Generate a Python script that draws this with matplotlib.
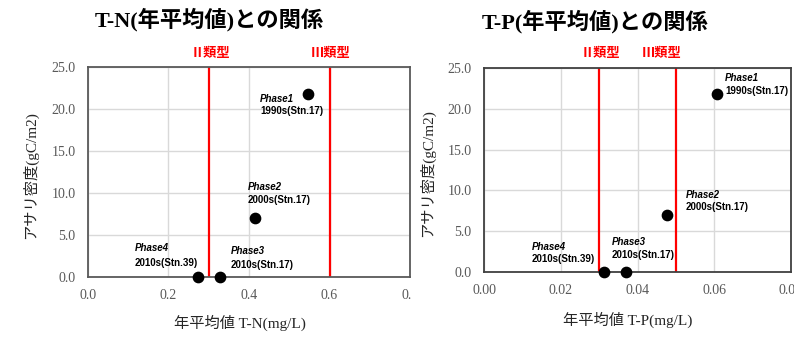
import matplotlib
matplotlib.use("Agg")
import matplotlib.pyplot as plt
from matplotlib.transforms import Bbox

# ---- data ----
phases = ["Phase1", "Phase2", "Phase3", "Phase4"]
periods = ["1990s(Stn.17)", "2000s(Stn.17)", "2010s(Stn.17)", "2010s(Stn.39)"]
tn_values = [0.547, 0.415, 0.328, 0.273]
tp_values = [0.0607, 0.0477, 0.037, 0.0313]
density = [21.8, 7.0, 0.0, 0.0]
tn_thresholds = [0.3, 0.6]
tp_thresholds = [0.03, 0.05]
threshold_labels = ["Ⅱ類型", "Ⅲ類型"]
tn_xticks = [0.0, 0.2, 0.4, 0.6, 0.8]
tp_xticks = [0.0, 0.02, 0.04, 0.06, 0.08]
tn_xticklabels = ["0.0", "0.2", "0.4", "0.6", "0.8"]
tp_xticklabels = ["0.00", "0.02", "0.04", "0.06", "0.08"]
yticks = [0.0, 5.0, 10.0, 15.0, 20.0, 25.0]
yticklabels = ["0.0", "5.0", "10.0", "15.0", "20.0", "25.0"]

SERIF_JP = ["Liberation Serif", "Noto Sans CJK JP"]
SANS = ["Liberation Sans", "DejaVu Sans"]

fig = plt.figure(figsize=(7.94, 3.38), dpi=100)

def panel(rect, xv, xlim, xticks, xticklabels, thresholds, thr_label_x, title, title_xy,
          xlabel, xlabel_pos, ylabel_pos, offsets, frame_color, thr_label_y, clip_right=None):
    ax = fig.add_axes(rect)
    ax.set_xlim(*xlim)
    ax.set_ylim(0, 25)
    ax.set_xticks(xticks)
    ax.set_xticklabels(xticklabels)
    ax.set_yticks(yticks)
    ax.set_yticklabels(yticklabels)
    ax.tick_params(length=0, labelsize=10, colors="#595959", pad=9)
    for lab in ax.get_xticklabels() + ax.get_yticklabels():
        lab.set_family(SERIF_JP)
    ax.grid(True, color="#d9d9d9", lw=1.0)
    ax.set_axisbelow(True)
    for s in ax.spines.values():
        s.set_color(frame_color)
        s.set_linewidth(1.3)
    for t in thresholds:
        ax.axvline(t, color="#ff0000", lw=1.6, zorder=2)
    for lx, txt in zip(thr_label_x, threshold_labels):
        ax.text(lx, thr_label_y, txt, transform=ax.get_xaxis_transform(), ha="center",
                va="center", color="#ff0000", fontsize=9.5, fontweight="bold",
                family=["Noto Sans CJK JP"])
    ax.scatter(xv, density, s=55, color="black", zorder=4, clip_on=False)
    for x, y, ph, pe, (dx, dy1, dy2) in zip(xv, density, phases, periods, offsets):
        ax.annotate(ph, (x, y), xytext=(dx, -dy1), textcoords="offset pixels",
                    ha="left", va="center", fontsize=7, fontweight="bold",
                    style="italic", family=SANS, annotation_clip=False)
        ax.annotate(pe, (x, y), xytext=(dx, -dy2), textcoords="offset pixels",
                    ha="left", va="center", fontsize=7, fontweight="bold",
                    family=SANS, annotation_clip=False)
    ax.text(xlabel_pos[0], xlabel_pos[1], xlabel, transform=ax.transAxes, ha="center",
            va="center", fontsize=11, color="#262626", family=SERIF_JP)
    ax.text(ylabel_pos[0], ylabel_pos[1], "アサリ密度(gC/m2)", transform=ax.transAxes,
            ha="center", va="center", rotation=90, fontsize=11, color="#262626",
            family=SERIF_JP)
    fig.text(title_xy[0], title_xy[1], title, ha="center", va="center", fontsize=16,
             fontweight="bold", family=["Liberation Serif", "Noto Sans CJK JP"])
    if clip_right is not None:
        fig.canvas.draw()
        bb = Bbox.from_extents(0, 0, clip_right, 338)
        for lab in ax.get_xticklabels():
            lab.set_clip_box(bb)
            lab.set_clip_on(True)
    return ax

panel([0.1108, 0.1805, 0.4056, 0.6213], tn_values, (0, 0.8), tn_xticks, tn_xticklabels,
      tn_thresholds, [0.305, 0.602], "T-N(年平均値)との関係", (0.263, 0.941),
      "年平均値 T-N(mg/L)", (0.472, -0.219), (-0.18, 0.486),
      [(-48, 5, 17), (-7, -31, -18), (11, -26, -12), (-63, -29, -14)],
      "#595959", 1.067, clip_right=411)

panel([0.6096, 0.1953, 0.3866, 0.6036], tp_values, (0, 0.08), tp_xticks, tp_xticklabels,
      tp_thresholds, [0.0304, 0.0464], "T-P(年平均値)との関係", (0.749, 0.935),
      "年平均値 T-P(mg/L)", (0.469, -0.235), (-0.186, 0.485),
      [(8, -16, -3), (19, -20, -8), (-14, -30, -17), (-72, -25, -13)],
      "#404040", 1.074)

fig.savefig("out.png", dpi=100)
